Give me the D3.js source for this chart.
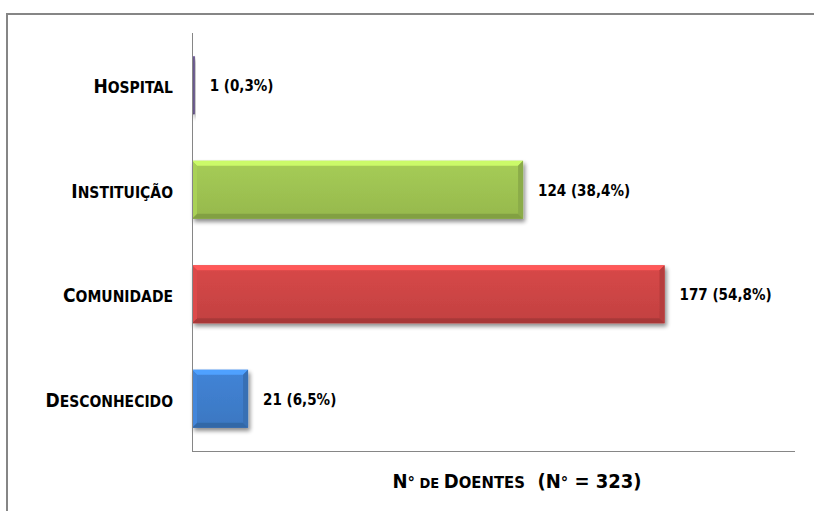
<!DOCTYPE html>
<html>
<head>
<meta charset="utf-8">
<script src="https://cdn.jsdelivr.net/npm/d3@7"></script>
<style>
  html, body { margin: 0; padding: 0; background: #fff; }
  svg { display: block; }
  text { font-family: "DejaVu Sans Condensed", "DejaVu Sans", sans-serif; font-weight: bold; fill: #000; }
</style>
</head>
<body>
<svg id="chart" width="814" height="511"></svg>
<script>
// Local de aquisição dos doentes
const categories = ["Hospital", "Instituição", "Comunidade", "Desconhecido"];
const counts = [1, 124, 177, 21];
const percents = ["0,3%", "38,4%", "54,8%", "6,5%"];
const total = 323;
const barColors = ["#6c5a90", "#9bbf50", "#c94343", "#3d7bc8"];

const svg = d3.select("#chart");
const W = 814, H = 511;
const plot = { left: 192, right: 795, top: 33, bottom: 451 };

// outer frame (left + top edges)
svg.append("path")
  .attr("d", `M7,${H} V14 H814`)
  .attr("fill", "none").attr("stroke", "#868686").attr("stroke-width", 2);

const y = d3.scaleBand().domain(categories)
  .range([plot.top, plot.bottom]).paddingInner(0.445).paddingOuter(0.2225);
const x = d3.scaleLinear().domain([0, 200]).range([plot.left, plot.left + 534]);

const defs = svg.append("defs");
const shadow = defs.append("filter").attr("id", "shadow")
  .attr("x", "-10%").attr("y", "-20%").attr("width", "130%").attr("height", "160%");
shadow.append("feGaussianBlur").attr("in", "SourceAlpha").attr("stdDeviation", 2).attr("result", "b");
shadow.append("feOffset").attr("in", "b").attr("dx", 2).attr("dy", 3).attr("result", "o");
shadow.append("feComponentTransfer").attr("in", "o").attr("result", "s")
  .append("feFuncA").attr("type", "linear").attr("slope", 0.45);
const merge = shadow.append("feMerge");
merge.append("feMergeNode").attr("in", "s");
merge.append("feMergeNode").attr("in", "SourceGraphic");

barColors.forEach((c, i) => {
  const g = defs.append("linearGradient").attr("id", "grad" + i)
    .attr("x1", 0).attr("y1", 0).attr("x2", 0).attr("y2", 1);
  g.append("stop").attr("offset", "0%").attr("stop-color", d3.color(c).brighter(0.2));
  g.append("stop").attr("offset", "100%").attr("stop-color", d3.color(c).darker(0.1));
});

// plot-area bottom edge
svg.append("line")
  .attr("x1", plot.left).attr("x2", plot.right)
  .attr("y1", plot.bottom + 0.5).attr("y2", plot.bottom + 0.5)
  .attr("stroke", "#868686").attr("stroke-width", 1);

const data = categories.map((c, i) => ({ cat: c, v: counts[i], p: percents[i], i }));

const bars = svg.append("g").selectAll("g").data(data).join("g")
  .attr("filter", "url(#shadow)");

const bev = 5;
bars.each(function (d) {
  const g = d3.select(this);
  const x0 = x(0), x1 = x(d.v), y0 = y(d.cat), y1 = y(d.cat) + y.bandwidth();
  const b = Math.min(bev, (x1 - x0) / 2);
  const base = d3.color(barColors[d.i]);
  g.append("rect").attr("x", x0).attr("y", y0).attr("width", x1 - x0).attr("height", y1 - y0)
    .attr("fill", `url(#grad${d.i})`);
  // bevel faces
  g.append("path").attr("d", `M${x0},${y0}L${x1},${y0}L${x1 - b},${y0 + b}L${x0 + b},${y0 + b}Z`)
    .attr("fill", base.brighter(0.75));
  g.append("path").attr("d", `M${x0},${y1}L${x1},${y1}L${x1 - b},${y1 - b}L${x0 + b},${y1 - b}Z`)
    .attr("fill", base.darker(0.5));
  g.append("path").attr("d", `M${x1},${y0}L${x1},${y1}L${x1 - b},${y1 - b}L${x1 - b},${y0 + b}Z`)
    .attr("fill", base.darker(0.3));
  g.append("path").attr("d", `M${x0},${y0}L${x0},${y1}L${x0 + b},${y1 - b}L${x0 + b},${y0 + b}Z`)
    .attr("fill", base.brighter(0.25));
});

// category axis
const axis = svg.append("g").attr("transform", `translate(${plot.left},0)`)
  .call(d3.axisLeft(y).tickSize(0).tickPadding(19));
axis.select(".domain").attr("stroke", "#868686").attr("d", `M0.5,${plot.top}V${plot.bottom + 1}`);
axis.selectAll(".tick text").each(function (d) {
  const t = d3.select(this);
  t.text(null).attr("dy", null).attr("y", 8).attr("font-size", null)
    .style("font-family", null);
  t.append("tspan").attr("font-size", 19).text(d.charAt(0).toUpperCase());
  t.append("tspan").attr("font-size", 15.5).text(d.slice(1).toUpperCase());
});

// value labels
svg.append("g").selectAll("text").data(data).join("text")
  .attr("x", d => x(d.v) + 15)
  .attr("y", d => y(d.cat) + y.bandwidth() / 2 + 6)
  .attr("font-size", 15)
  .text(d => `${d.v} (${d.p})`);

// axis title
const title = svg.append("text").attr("x", 517).attr("y", 488).attr("text-anchor", "middle");
const parts = [
  ["N", 20], ["°", 16.5], [" DE ", 14.5], ["D", 20], ["OENTES", 16.5],
  ["  (N", 20], ["°", 16.5], [" = " + total + ")", 20]
];
title.attr("xml:space", "preserve").style("white-space", "pre");
parts.forEach(([s, f]) => title.append("tspan").attr("font-size", f).text(s));
</script>
</body>
</html>
